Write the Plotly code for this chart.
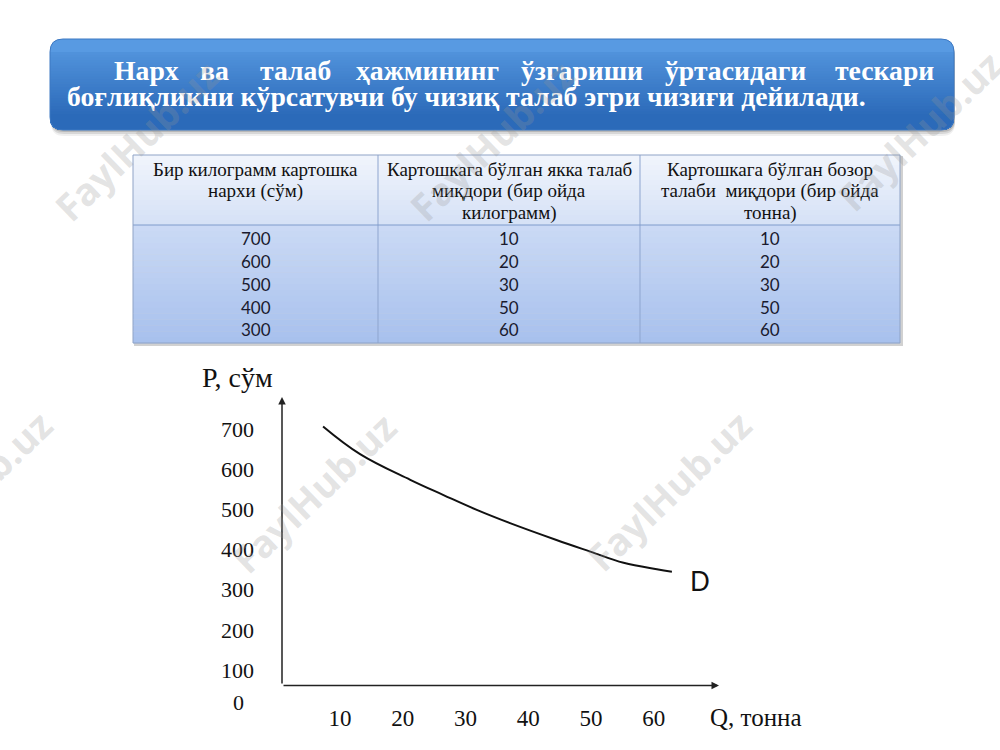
import plotly.graph_objects as go

# ---------------- data ----------------
title_line1_words = ["Нарх", "ва", "талаб", "ҳажмининг", "ўзгариши", "ўртасидаги", "тескари"]
title_line2 = "боғлиқликни кўрсатувчи бу чизиқ талаб эгри чизиғи дейилади."

col_headers = [
    ["Бир килограмм картошка", "нархи (сўм)"],
    ["Картошкага бўлган якка талаб", "миқдори (бир ойда", "килограмм)"],
    ["Картошкага бўлган бозор", "талаби  миқдори (бир ойда", "тонна)"],
]
price = [700, 600, 500, 400, 300]
individual_qty = [10, 20, 30, 50, 60]
market_qty = [10, 20, 30, 50, 60]

# demand curve as drawn
curve_q = [7.3, 13.2, 21.2, 26.5, 31.8, 37.1, 44.5, 49.9, 55.2, 60.5, 62.9]
curve_p = [707, 638, 574, 536, 499, 466, 424, 395, 367, 351, 345]

x_ticks = [10, 20, 30, 40, 50, 60]
y_ticks = [100, 200, 300, 400, 500, 600, 700]

# ---------------- helpers (pixel -> paper) ----------------
W, H = 1000, 750
def px(x): return x / W
def py(y): return 1 - y / H

def lerp(c1, c2, t):
    return '#%02x%02x%02x' % tuple(round(a + (b - a) * t) for a, b in zip(c1, c2))

def rrect_path(x0, y0, x1, y1, r, top=True, bottom=True):
    rx, ry = r / W, r / H
    X0, X1, Y0, Y1 = px(x0), px(x1), py(y0), py(y1)
    p = []
    if top:
        p.append(f"M{X0+rx},{Y0} L{X1-rx},{Y0} Q{X1},{Y0} {X1},{Y0-ry}")
    else:
        p.append(f"M{X0},{Y0} L{X1},{Y0}")
    if bottom:
        p.append(f"L{X1},{Y1+ry} Q{X1},{Y1} {X1-rx},{Y1} L{X0+rx},{Y1} Q{X0},{Y1} {X0},{Y1+ry}")
    else:
        p.append(f"L{X1},{Y1} L{X0},{Y1}")
    if top:
        p.append(f"L{X0},{Y0-ry} Q{X0},{Y0} {X0+rx},{Y0} Z")
    else:
        p.append(f"L{X0},{Y0} Z")
    return " ".join(p)

shapes = []

# ---------------- banner ----------------
bx0, by0, bx1, by1, br = 50, 39, 954, 130, 13
for off, a in [(6, 0.06), (4, 0.10), (2, 0.14)]:
    shapes.append(dict(type='path', xref='paper', yref='paper',
                       path=rrect_path(bx0 + 1, by0 + off, bx1 + 1, by1 + off, br),
                       fillcolor=f'rgba(0,0,0,{a})', line=dict(width=0)))
top_c, bot_c = (88, 154, 226), (34, 96, 176)
shapes.append(dict(type='path', xref='paper', yref='paper',
                   path=rrect_path(bx0, by0, bx1, by1, br),
                   fillcolor=lerp(top_c, bot_c, 0), line=dict(width=0)))
n = 24
start = by0 + br
for i in range(n):
    yk = start + (by1 - br - start) * i / n
    t = (yk - by0) / (by1 - by0)
    shapes.append(dict(type='path', xref='paper', yref='paper',
                       path=rrect_path(bx0, yk, bx1, by1, br, top=False, bottom=True),
                       fillcolor=lerp(top_c, bot_c, t), line=dict(width=0)))
shapes.append(dict(type='path', xref='paper', yref='paper',
                   path=rrect_path(bx0, by0, bx1, by1, br),
                   fillcolor='rgba(0,0,0,0)', line=dict(color='#3d78c2', width=1)))

# ---------------- table background ----------------
tx0, ty0, tx1, ty1, thy = 133, 155, 900, 343, 225
shapes.append(dict(type='rect', xref='paper', yref='paper', layer='below',
                   x0=px(tx0 + 1), x1=px(tx1 + 3), y0=py(ty0 + 1), y1=py(ty1 + 3),
                   fillcolor='rgba(0,0,0,0.18)', line=dict(width=0)))
def vgrad(y0, y1, c0, c1, n):
    for i in range(n):
        a = y0 + (y1 - y0) * i / n
        b = y0 + (y1 - y0) * (i + 1) / n
        shapes.append(dict(type='rect', xref='paper', yref='paper', layer='below',
                           x0=px(tx0), x1=px(tx1), y0=py(a), y1=py(b) - 0.0004,
                           fillcolor=lerp(c0, c1, (i + 0.5) / n), line=dict(width=0)))
vgrad(ty0, thy, (241, 245, 252), (213, 225, 246), 14)
vgrad(thy, ty1, (203, 218, 245), (167, 192, 237), 20)
col_edges = [133, 378, 640, 900]
for xe in col_edges[1:-1]:
    shapes.append(dict(type='line', xref='paper', yref='paper',
                       x0=px(xe), x1=px(xe), y0=py(ty0), y1=py(ty1),
                       line=dict(color='#8ea5cf', width=1)))
shapes.append(dict(type='line', xref='paper', yref='paper',
                   x0=px(tx0), x1=px(tx1), y0=py(thy), y1=py(thy),
                   line=dict(color='#7f9bcb', width=1.2)))
shapes.append(dict(type='rect', xref='paper', yref='paper',
                   x0=px(tx0), x1=px(tx1), y0=py(ty0), y1=py(ty1),
                   line=dict(color='#8fa3c6', width=1)))

fig = go.Figure()

# ---------------- demand curve ----------------
fig.add_trace(go.Scatter(x=curve_q, y=curve_p, mode='lines',
                         line=dict(color='#111', width=2, shape='spline', smoothing=1.1),
                         hoverinfo='skip'))

x_left_px, x_right_px = 282, 719
tick10_px, per_unit = 340, 6.274
xr = [10 - (tick10_px - x_left_px) / per_unit, 10 + (x_right_px - tick10_px) / per_unit]
y_bot_px, y_top_px, per100 = 710, 397, 40.1
yr = [0, (y_bot_px - y_top_px) / per100 * 100]

fig.update_layout(
    width=W, height=H, margin=dict(l=0, r=0, t=0, b=0),
    paper_bgcolor='white', plot_bgcolor='rgba(0,0,0,0)', showlegend=False,
    xaxis=dict(domain=[px(x_left_px), px(x_right_px)], range=xr, anchor='free', position=py(702),
               showgrid=False, zeroline=False, showline=False, ticks='',
               tickvals=x_ticks, ticktext=[str(v) for v in x_ticks],
               tickfont=dict(family='Liberation Serif', size=23, color='#111')),
    yaxis=dict(domain=[py(y_bot_px), py(y_top_px)], range=yr,
               showgrid=False, zeroline=False, showline=False, ticks='',
               tickvals=y_ticks, ticktext=[str(v) for v in y_ticks], ticklabelstandoff=27,
               tickfont=dict(family='Liberation Serif', size=22, color='#111')),
    shapes=shapes,
)

ann = []
def A(**k):
    k.setdefault('xanchor', 'center')
    k.setdefault('yanchor', 'middle')
    k.setdefault('showarrow', False)
    ann.append(k)

# table text
col_centers = [(col_edges[i] + col_edges[i + 1]) / 2 for i in range(3)]
header_line_y = [169, 191, 213]
for cx, lines in zip(col_centers, col_headers):
    for j, line in enumerate(lines):
        A(x=px(cx), y=py(header_line_y[j]), xref='paper', yref='paper', text=line,
          font=dict(family='Liberation Serif', size=19, color='#111'))
row_y0, row_step = 238.8, 22.8
for cx, col in zip(col_centers, (price, individual_qty, market_qty)):
    for i, v in enumerate(col):
        A(x=px(cx), y=py(row_y0 + i * row_step), xref='paper', yref='paper', text=str(v),
          font=dict(family='Lato', size=17, color='#1a1a2e'))

# axis arrows
ann.append(dict(x=px(282), y=py(397), xref='paper', yref='paper', ax=0, ay=288, axref='pixel', ayref='pixel',
                text='', showarrow=True, arrowhead=2, arrowsize=1, arrowwidth=1.5, arrowcolor='#222'))
ann.append(dict(x=px(719), y=py(685.5), xref='paper', yref='paper', ax=-437, ay=0, axref='pixel', ayref='pixel',
                text='', showarrow=True, arrowhead=2, arrowsize=1, arrowwidth=1.5, arrowcolor='#222'))
A(x=px(238), y=0, xref='paper', yref='y', yshift=8, text='0',
  font=dict(family='Liberation Serif', size=22, color='#111'))
A(x=px(237), y=py(377), xref='paper', yref='paper', text='P, сўм',
  font=dict(family='Liberation Serif', size=28, color='#111'))
A(x=px(756), y=py(717), xref='paper', yref='paper', text='Q, тонна',
  font=dict(family='Liberation Serif', size=25, color='#111'))
A(x=curve_q[-1], y=curve_p[-1], xref='x', yref='y', xshift=28, yshift=-9, text='D',
  font=dict(family='Lato', size=26, color='#111'))

# banner text
word_cx = [146.5, 214.5, 295, 427.5, 582, 735, 884.5]
for w, x in zip(title_line1_words, word_cx):
    A(x=px(x), y=py(70), xref='paper', yref='paper', text=f'<b>{w}</b>',
      font=dict(family='Liberation Serif', size=27.7, color='white'))
A(x=px(65), y=py(97), xref='paper', yref='paper', xanchor='left', text=f'<b>{title_line2}</b>',
  font=dict(family='Liberation Serif', size=27.7, color='white'))

# watermarks
for cx, cy in [(136, 141), (491, 141), (919, 131), (-31, 491), (313, 493), (668, 491)]:
    A(x=px(cx), y=py(cy), xref='paper', yref='paper', text='<b>FaylHub.uz</b>', textangle=-44,
      font=dict(family='Open Sans', size=38, color='rgba(150,150,150,0.27)'))

fig.update_layout(annotations=ann)
fig.write_html("out.html", config={'displayModeBar': False},
               post_script="document.body.style.margin='0';document.body.style.overflow='hidden';")
